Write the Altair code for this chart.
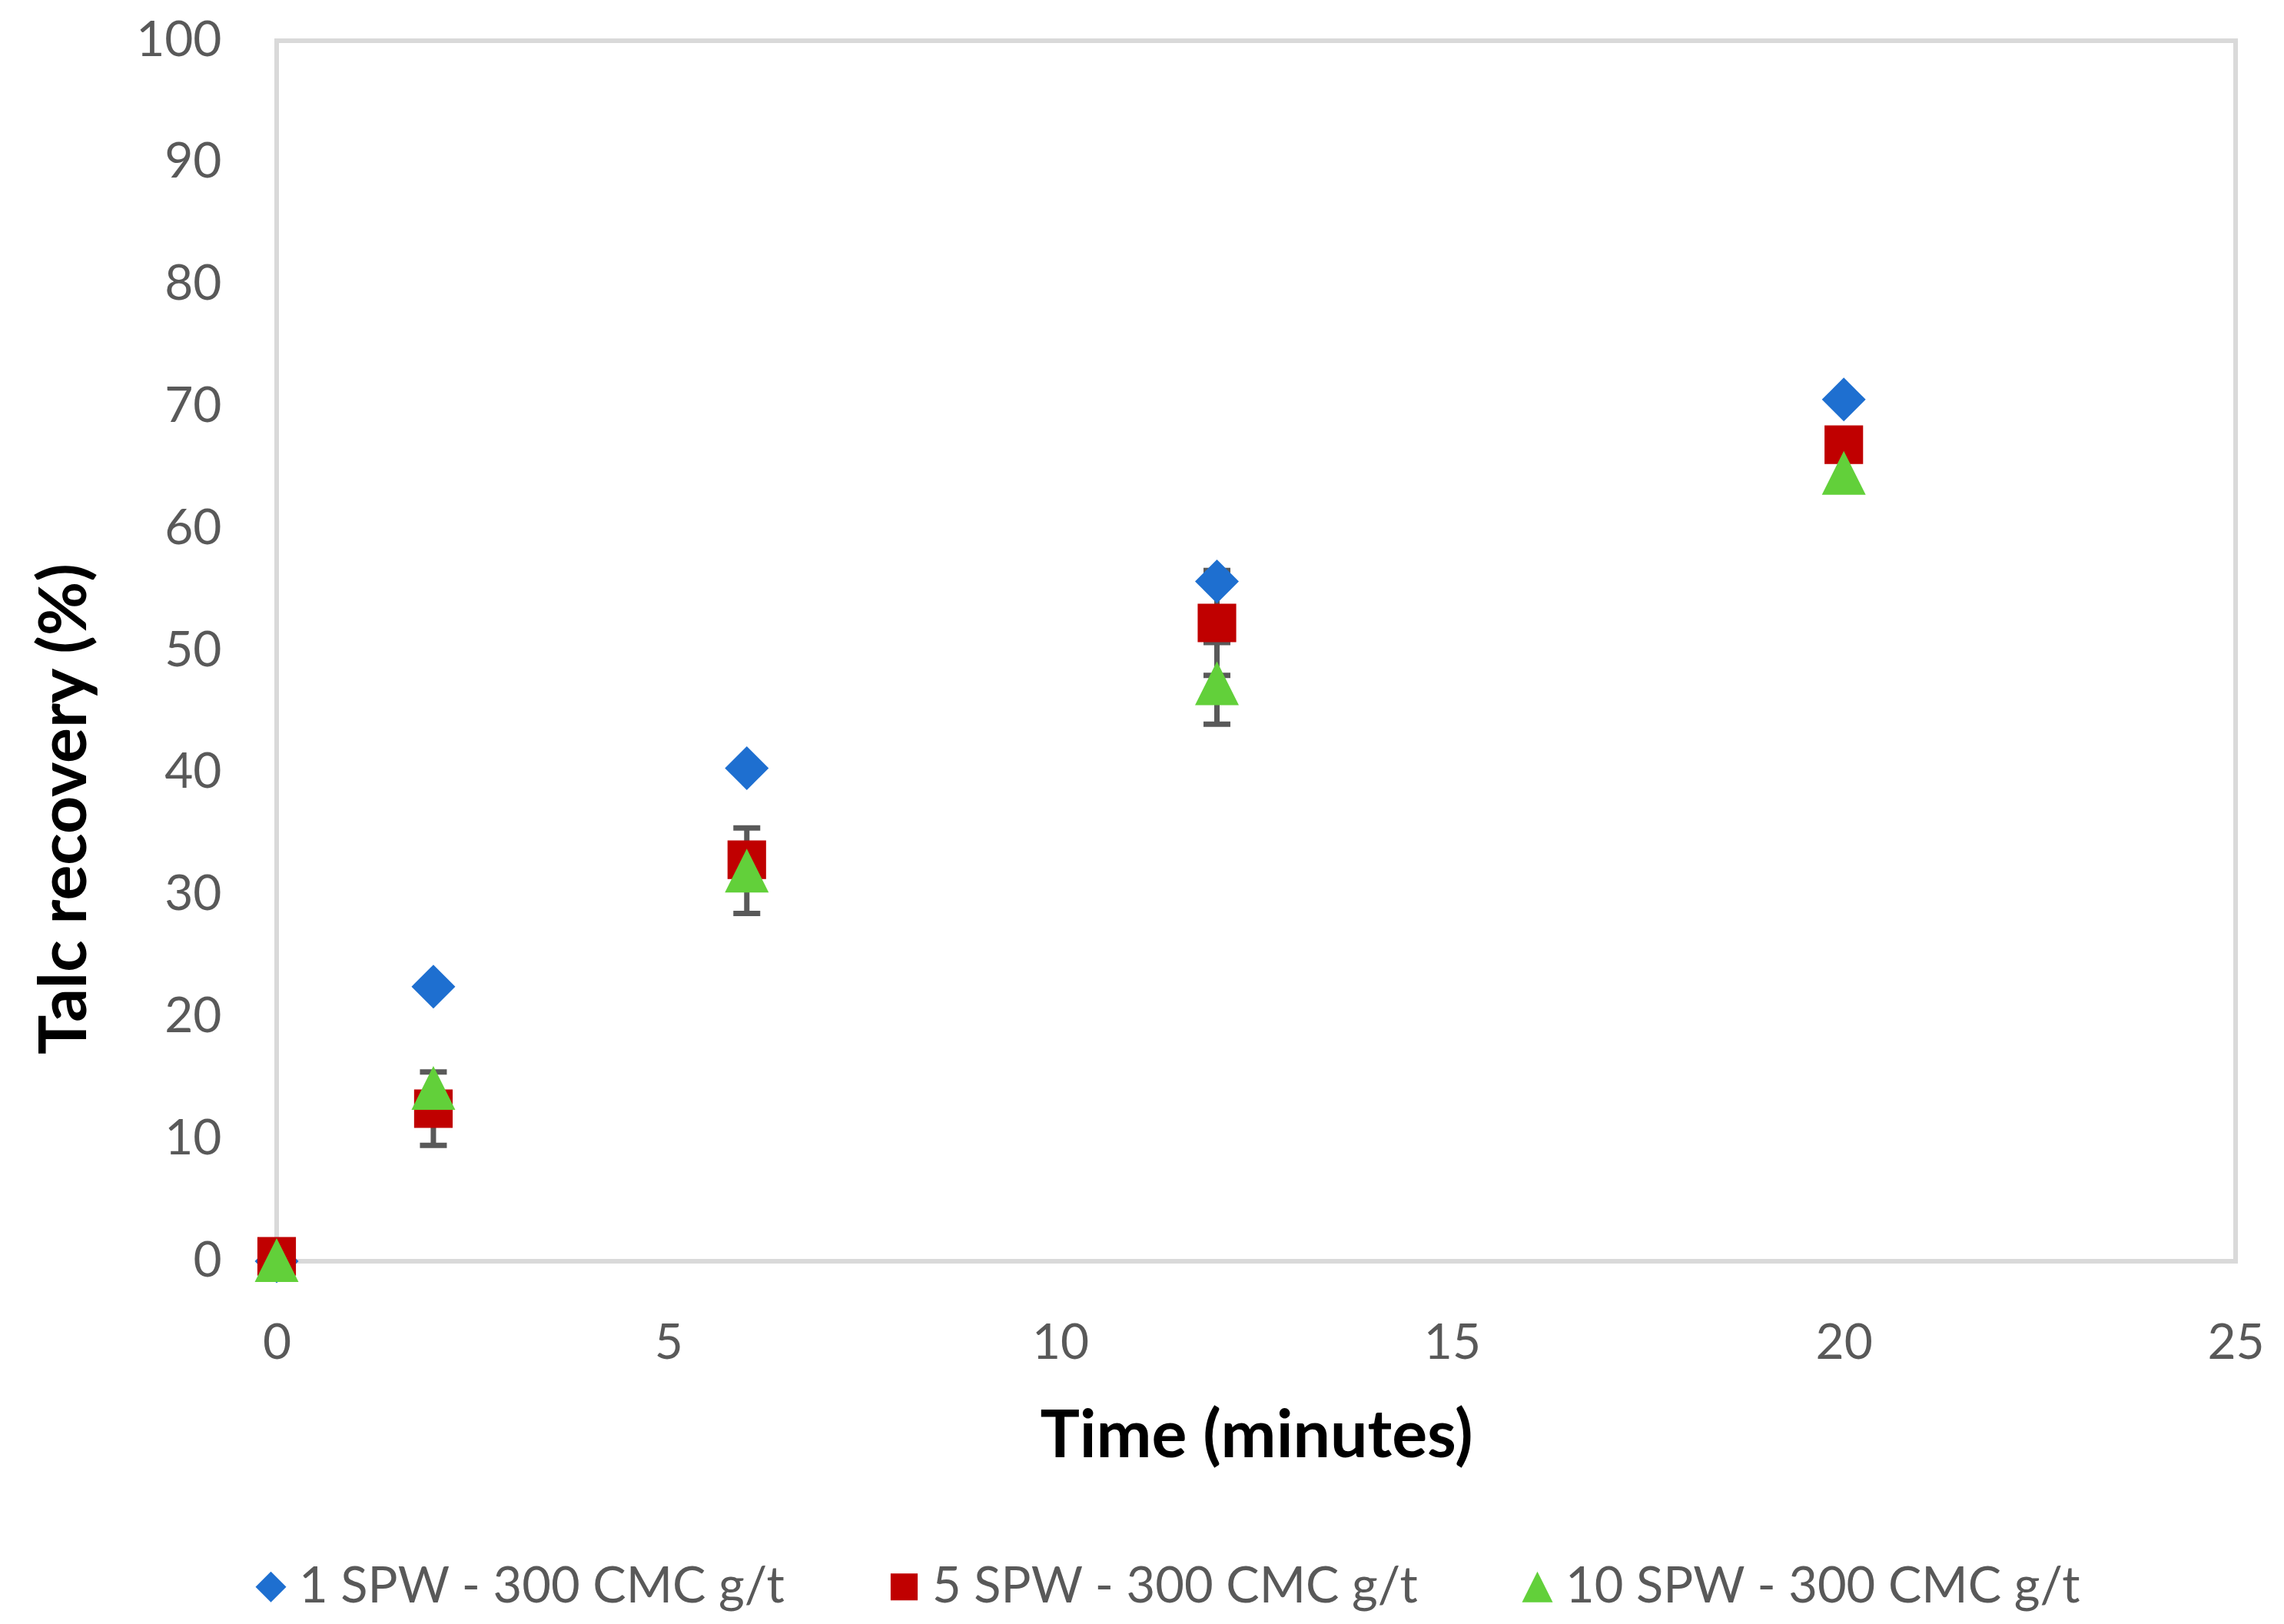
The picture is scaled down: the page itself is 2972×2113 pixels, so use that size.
import altair as alt
import pandas as pd

# ---- data ----
time_min = [0, 2, 6, 12, 20]
series_names = ["1 SPW - 300 CMC g/t", "5 SPW - 300 CMC g/t", "10 SPW - 300 CMC g/t"]
rec_1spw = [0.0, 22.5, 40.4, 55.7, 70.6]
rec_5spw = [0.4, 12.5, 32.9, 52.3, 66.9]
rec_10spw = [0.1, 14.2, 32.0, 47.35, 64.6]
err_1spw = [0, 0, 0, 0, 0]
err_5spw = [0, 3.0, 0, 4.3, 0]
err_10spw = [0, 0, 3.5, 3.35, 0]
x_ticks = [0, 5, 10, 15, 20, 25]
y_ticks = [0, 10, 20, 30, 40, 50, 60, 70, 80, 90, 100]

colors = ["#1E6FD0", "#C00000", "#62D03A"]
shapes = [
    "M0,-1L1,0L0,1L-1,0Z",
    "M-0.88,-0.88L0.88,-0.88L0.88,0.88L-0.88,0.88Z",
    "M0,-1L1,1L-1,1Z",
]

rows = []
for name, vals, errs in zip(series_names, [rec_1spw, rec_5spw, rec_10spw],
                            [err_1spw, err_5spw, err_10spw]):
    for t, v, e in zip(time_min, vals, errs):
        rows.append({"time": t, "rec": v, "err": e, "series": name,
                     "lo": v - e, "hi": v + e})
df = pd.DataFrame(rows)
err_df = df[df["err"] > 0]

x_enc = alt.X("time:Q", scale=alt.Scale(domain=[0, 25], nice=False),
              axis=alt.Axis(values=x_ticks, title="Time (minutes)", format="d",
                            labelFlush=False, labelPadding=75, titlePadding=47))
y_axis = alt.Axis(values=y_ticks, title="Talc recovery (%)", format="d",
                  labelPadding=72, titlePadding=47, titleY=999)
y_scale = alt.Scale(domain=[0, 100], nice=False)

rules = alt.Chart(err_df).mark_rule(color="#595959", strokeWidth=7).encode(
    x=x_enc,
    y=alt.Y("lo:Q", scale=y_scale, axis=y_axis),
    y2="hi:Q",
)
caps_hi = alt.Chart(err_df).mark_tick(orient="horizontal", color="#595959",
                                      size=35, thickness=7, opacity=1).encode(
    x=x_enc, y=alt.Y("hi:Q", scale=y_scale, axis=y_axis))
caps_lo = alt.Chart(err_df).mark_tick(orient="horizontal", color="#595959",
                                      size=35, thickness=7, opacity=1).encode(
    x=x_enc, y=alt.Y("lo:Q", scale=y_scale, axis=y_axis))

legend = alt.Legend(title=None, orient="none", legendX=-40, legendY=1979,
                    direction="horizontal", columnPadding=122, labelOffset=4,
                    symbolSize=1600, labelFont="Lato", labelFontSize=65,
                    labelColor="#595959", labelLimit=2000, padding=0,
                    symbolStrokeWidth=0, symbolOpacity=1)

points = alt.Chart(df).mark_point(filled=True, opacity=1, size=3249, strokeWidth=0).encode(
    x=x_enc,
    y=alt.Y("rec:Q", scale=y_scale, axis=y_axis),
    color=alt.Color("series:N", scale=alt.Scale(domain=series_names, range=colors),
                    legend=legend),
    shape=alt.Shape("series:N", scale=alt.Scale(domain=series_names, range=shapes),
                    legend=legend),
)

chart = alt.layer(rules, caps_hi, caps_lo, points).properties(
    width=2549, height=1588,
    padding={"left": 352, "top": 45, "right": 55, "bottom": 470},
    autosize=alt.AutoSizeParams(type="none"),
    background="white",
).configure_view(
    stroke="#D9D9D9", strokeWidth=6
).configure_axis(
    grid=False, ticks=False, domain=False,
    labelFont="Lato", labelFontSize=64, labelColor="#595959",
    titleFont="Lato", titleFontSize=86, titleFontWeight="bold", titleColor="#000000",
)

chart.save("out.html", embed_options={"renderer": "svg", "actions": False})
